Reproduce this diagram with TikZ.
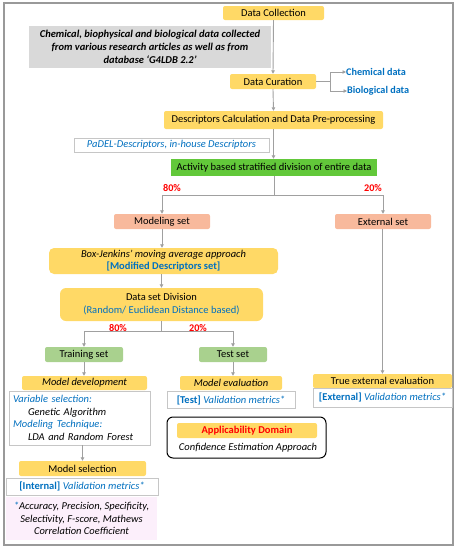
\documentclass[tikz,border=0pt]{standalone}
\usepackage{fontspec}
\setmainfont{Carlito}
\usetikzlibrary{arrows.meta}
\definecolor{ylw}{HTML}{FFD966}
\definecolor{blu}{HTML}{0070C0}
\definecolor{salm}{HTML}{F8B99C}
\definecolor{lgrn}{HTML}{A9D18E}
\definecolor{grn}{HTML}{62C83A}
\definecolor{gbox}{HTML}{D9D9D9}
\definecolor{pnk}{HTML}{FCEFFB}
\definecolor{lin}{HTML}{A0A0A0}
\definecolor{red}{HTML}{FF0000}
\tikzset{
  box/.style={inner sep=0pt, align=center, rounded corners=2pt},
  ybox/.style={box, fill=ylw},
  wbox/.style={box, rounded corners=0pt, draw=gray!45, line width=0.8pt, fill=white},
  pct/.style={text=red, inner sep=0pt, font=\fontsize{10.2}{11}\selectfont\bfseries},
  conn/.style={draw=lin, line width=0.9pt},
  arr/.style={conn, -{Triangle[length=3.5pt,width=3.5pt]}},
}
\begin{document}
\begin{tikzpicture}[x=1pt,y=-1pt, font=\fontsize{10.5}{12}\selectfont]
\useasboundingbox (0,0) rectangle (458,550);
\draw[gray!80, line width=1.2pt] (4,3) rectangle (453,545);
% nodes
\node[ybox, minimum width=101, minimum height=14] (dc) at (273.5,13) {Data Collection};
\node[box, rounded corners=0pt, fill=gbox, minimum width=242, minimum height=42, font=\fontsize{10.5}{13}\selectfont\bfseries\itshape] (gb) at (150,47) {Chemical, biophysical and biological data collected\\from various research articles as well as from\\database ‘G4LDB 2.2’};
\node[ybox, minimum width=86, minimum height=15] (cur) at (273,81.5) {Data Curation};
\node[anchor=west, inner sep=0pt, text=blu, font=\fontsize{10.2}{11}\selectfont\bfseries] (chem) at (346,72) {Chemical data};
\node[anchor=west, inner sep=0pt, text=blu, font=\fontsize{10.2}{11}\selectfont\bfseries] (bio) at (347,91) {Biological data};
\node[ybox, minimum width=219, minimum height=18] (desc) at (273.5,120) {Descriptors Calculation and Data Pre-processing};
\node[wbox, minimum width=195, minimum height=14, text=blu, font=\fontsize{10.5}{12}\selectfont\itshape] (pad) at (171.5,145) {PaDEL-Descriptors, in-house Descriptors};
\node[box, rounded corners=0pt, fill=grn, minimum width=206, minimum height=17] (act) at (274,167.5) {Activity based stratified division of entire data};
\node[pct] (p80) at (172,188) {80\%};
\node[pct] (p20) at (373,188) {20\%};
\node[box, fill=salm, minimum width=96, minimum height=15] (mod) at (162,221.5) {Modeling set};
\node[box, fill=salm, minimum width=96, minimum height=15] (ext) at (383,221.5) {External set};
\node[ybox, rounded corners=5pt, minimum width=229, minimum height=26] (bj) at (163.5,261) {\itshape Box-Jenkins’ moving average approach\\\textcolor{blu}{\bfseries [Modified Descriptors set]}};
\node[ybox, rounded corners=6pt, minimum width=203, minimum height=33, font=\fontsize{10.5}{13}\selectfont] (div) at (161.5,304.5) {Data set Division\\\textcolor{blu}{(Random/ Euclidean Distance based)}};
\node[pct] (q80) at (118,328) {80\%};
\node[pct] (q20) at (198,328) {20\%};
\node[box, fill=lgrn, minimum width=78, minimum height=15] (tr) at (84,354.5) {Training set};
\node[box, fill=lgrn, minimum width=68, minimum height=15] (te) at (233,354.5) {Test set};
\node[ybox, minimum width=125, minimum height=14, font=\fontsize{10.5}{12}\selectfont\itshape] (md) at (84.5,383) {Model development};
\node[ybox, minimum width=102, minimum height=14, font=\fontsize{10.5}{12}\selectfont\itshape] (me) at (231,383) {Model evaluation};
\node[ybox, minimum width=139, minimum height=14] (tee) at (382.5,381) {True external evaluation};
\node[wbox, minimum width=139, minimum height=19, text=blu] (ev) at (382.5,397.5) {\textbf{[External]} \textit{Validation metrics*}};
\node[wbox, minimum width=128, minimum height=17, text=blu] (tv) at (231,400) {\textbf{[Test]} \textit{Validation metrics*}};
\node[wbox, minimum width=141, minimum height=54, inner xsep=4pt, text width=133, align=left, font=\fontsize{10.5}{12.5}\selectfont\itshape] (mdb) at (79.5,418) {\textcolor{blu}{Variable selection:}\\\hspace*{15pt}Genetic Algorithm\\\textcolor{blu}{Modeling Technique:}\\\hspace*{15pt}LDA and Random Forest};
\node[ybox, minimum width=127, minimum height=15] (ms) at (82.5,468.5) {Model selection};
\node[wbox, minimum width=152, minimum height=17, text=blu] (iv) at (82,486.5) {\textbf{[Internal]} \textit{Validation metrics*}};
\node[box, rounded corners=0pt, fill=pnk, minimum width=151, minimum height=43, font=\fontsize{10.5}{12.5}\selectfont\itshape] (pk) at (81.5,518.5) {\textcolor{blu}{*}Accuracy, Precision, Specificity,\\Selectivity, F-score, Mathews\\Correlation Coefficient};
\node[box, draw=black, line width=1pt, rounded corners=6pt, minimum width=159, minimum height=41] (ad) at (246.5,437.5) {};
\node[ybox, minimum width=140, minimum height=15, text=red, font=\fontsize{10.5}{12}\selectfont\bfseries] (adi) at (247,430.5) {Applicability Domain};
\node[inner sep=0pt, font=\fontsize{10.5}{12}\selectfont\itshape] (conf) at (248,448) {Confidence Estimation Approach};
% junctions
\coordinate (jc) at (330,81.5);
\coordinate (j1) at (274,195);
\coordinate (j2) at (161.5,331);
% connectors
\draw[arr] (dc.south) -- (cur.north);
\draw[conn] (cur.east) -- (jc);
\draw[arr] (jc) |- (chem.west);
\draw[arr] (jc) |- (bio.west);
\draw[arr] (cur.south) -- (desc.north);
\draw[arr] (desc.south) -- (desc.south |- act.north);
\draw[conn] (act.south) -- (j1);
\draw[arr] (j1) -| (mod.north);
\draw[arr] (j1) -| (ext.north);
\draw[arr] (mod.south) -- (mod.south |- bj.north);
\draw[arr] (bj.south -| div.north) -- (div.north);
\draw[conn] (div.south) -- (j2);
\draw[arr] (j2) -| (tr.north);
\draw[arr] (j2) -| (te.north);
\draw[arr] (tr.south) -- (tr.south |- md.north);
\draw[arr] (te.south) -- (te.south |- me.north);
\draw[arr] (ext.south -| tee.north) -- (tee.north);
\draw[arr] (mdb.south -| ms.north) -- (ms.north);
\end{tikzpicture}
\end{document}
